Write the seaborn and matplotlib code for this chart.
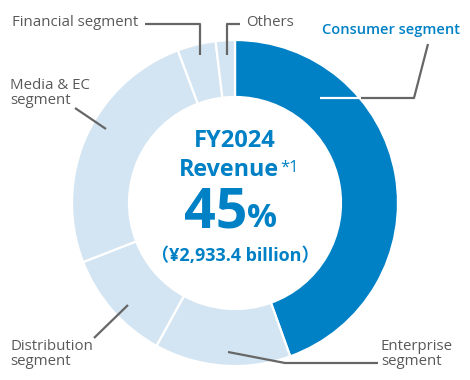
import matplotlib
matplotlib.use("Agg")
import matplotlib.pyplot as plt
import seaborn as sns

sns.set_theme(style="white")
plt.rcParams["font.family"] = ["Open Sans", "Noto Sans CJK JP", "DejaVu Sans"]

# revenue share by segment (%), clockwise from 12 o'clock
segments = ["Consumer", "Enterprise", "Distribution", "Media & EC", "Financial", "Others"]
shares = [44.5, 13.5, 11.1, 25.2, 3.8, 1.9]

BLUE = "#0080c5"
LIGHT = "#d3e5f2"
GRAY_TXT = "#595959"
GRAY_LN = "#666666"
H = 380


def py(y):
    # pixel row (top-down) -> data y (bottom-up)
    return H - y


fig = plt.figure(figsize=(4.7, 3.8), dpi=100)
ax = fig.add_axes([0, 0, 1, 1])

colors = [BLUE] + [LIGHT] * (len(segments) - 1)
ax.pie(shares, colors=colors, startangle=90, counterclock=False,
       center=(235, py(203)), radius=163,
       wedgeprops=dict(width=57, edgecolor="white", linewidth=1.6))

ax.set_xlim(0, 470)
ax.set_ylim(0, H)
ax.set_aspect("equal")
ax.axis("off")


def leader(pts, color=GRAY_LN):
    xs = [p[0] for p in pts]
    ys = [py(p[1]) for p in pts]
    ax.plot(xs, ys, color=color, lw=1.6, solid_capstyle="butt", zorder=5)


leader([(145, 24), (200, 24), (200, 55)])
leader([(240, 24), (227, 24), (227, 55)])
leader([(428, 44), (414, 98), (360, 98)])
leader([(361, 98), (320, 98)], color="white")
leader([(75, 108), (106, 129)])
leader([(94, 338), (128, 305)])
leader([(228, 352), (285, 363), (378, 363)])

lab = dict(fontsize=10.8, color=GRAY_TXT, va="center", ha="left", linespacing=1.05)
ax.text(12, py(23), "Financial segment", **lab)
ax.text(246, py(23), "Others", **lab)
ax.text(10, py(93), "Media & EC\nsegment", **lab)
ax.text(10, py(354), "Distribution\nsegment", **lab)
ax.text(381, py(354), "Enterprise\nsegment", **lab)
ax.text(322, py(30), "Consumer segment", fontsize=10.5, color=BLUE,
        va="center", ha="left", fontweight="semibold")

# centre labels
ax.text(235, py(147), "FY2024", fontsize=17, color=BLUE, fontweight="bold",
        ha="center", va="baseline")
ax.text(279, py(176), "Revenue", fontsize=16.8, color=BLUE, fontweight="bold",
        ha="right", va="baseline")
ax.text(280, py(172), "*1", fontsize=12, color=BLUE, ha="left", va="baseline")
ax.text(247, py(227), "45", fontsize=40, color=BLUE, fontweight="bold",
        ha="right", va="baseline")
ax.text(247, py(227), "%", fontsize=24, color=BLUE, fontweight="bold",
        ha="left", va="baseline")
ax.text(235, py(261), "（¥2,933.4 billion）", fontsize=13, color=BLUE,
        fontweight="bold", ha="center", va="baseline")

fig.savefig("out.png", dpi=100)
